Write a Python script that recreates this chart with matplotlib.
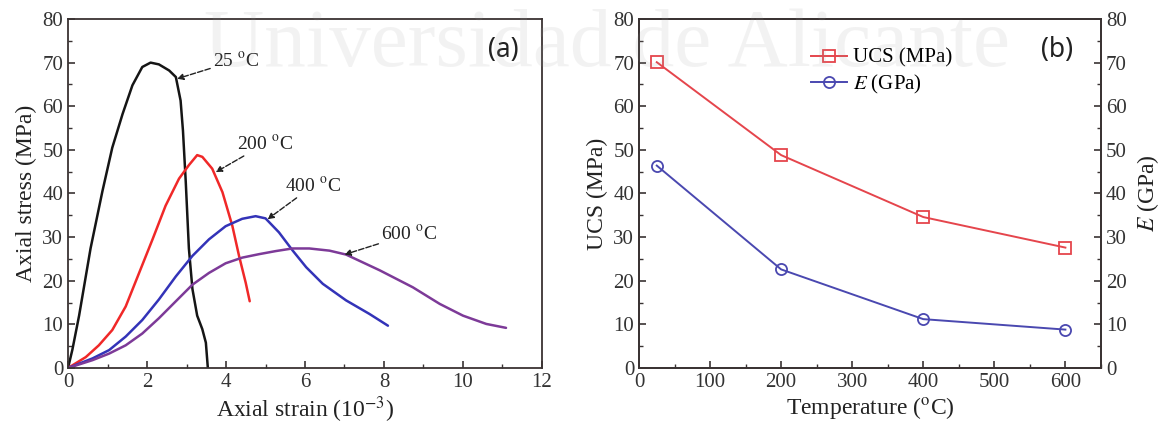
import matplotlib
matplotlib.use("Agg")
import matplotlib.pyplot as plt
from matplotlib.ticker import MultipleLocator

plt.rcParams['font.family'] = ['Liberation Serif', 'DejaVu Serif']
plt.rcParams['mathtext.fontset'] = 'stix'

# (a) stress-strain curves at each temperature (strain in 1e-3, stress in MPa)
strain_25 = [0, 0.11, 0.28, 0.57, 0.87, 1.12, 1.38, 1.63, 1.88, 2.09, 2.30, 2.56, 2.73,
             2.85, 2.91, 2.98, 3.06, 3.15, 3.27, 3.40, 3.49, 3.54]
stress_25 = [0, 4.2, 12, 27.4, 40.5, 50.5, 58.2, 64.8, 69, 70, 69.6, 68.2, 66.7,
             61.3, 54.4, 42.8, 27.4, 18.1, 12, 8.9, 5.8, 0]

strain_200 = [0, 0.45, 0.78, 1.12, 1.46, 1.80, 2.14, 2.47, 2.81, 3.06, 3.27, 3.40, 3.65,
              3.91, 4.16, 4.33, 4.50, 4.60]
stress_200 = [0, 2.5, 5.2, 8.7, 14.1, 21.8, 29.5, 37.2, 43.4, 46.5, 48.8, 48.4, 45.7,
              40.3, 32.6, 25.7, 19.5, 15.3]

strain_400 = [0, 0.62, 1.04, 1.46, 1.88, 2.30, 2.73, 3.15, 3.57, 3.99, 4.41, 4.75, 5.00,
              5.34, 5.69, 6.03, 6.45, 7.04, 7.63, 8.10]
stress_400 = [0, 2.2, 4.1, 7.2, 11.0, 15.7, 21.0, 25.7, 29.5, 32.5, 34.2, 34.8, 34.3,
              31.1, 26.9, 23.1, 19.3, 15.5, 12.4, 9.7]

strain_600 = [0, 0.62, 1.04, 1.46, 1.88, 2.30, 2.73, 3.15, 3.57, 3.99, 4.41, 4.84, 5.26,
              5.68, 6.11, 6.62, 7.04, 7.89, 8.73, 9.41, 10.0, 10.59, 11.09]
stress_600 = [0, 1.8, 3.3, 5.2, 7.9, 11.4, 15.3, 19.1, 21.8, 24.0, 25.3, 26.1, 26.8,
              27.4, 27.4, 26.9, 26.0, 22.4, 18.5, 14.7, 12.0, 10.1, 9.2]

labels_a = ['25 $^{\\rm o}$C', '200 $^{\\rm o}$C', '400 $^{\\rm o}$C', '600 $^{\\rm o}$C']
label_xy = [(3.67, 70.5), (4.28, 51.4), (5.5, 41.8), (7.93, 30.7)]
arrow_xy = [(2.76, 66.3), (3.74, 44.9), (5.05, 34.1), (7.0, 26.0)]

# (b) UCS and elastic modulus against temperature
temps = [25, 200, 400, 600]
ucs = [70.1, 48.8, 34.6, 27.6]
modulus = [46.4, 22.6, 11.2, 8.8]

spine_col = '#3a3333'

fig = plt.figure(figsize=(11.65, 4.28), dpi=100)
ax1 = fig.add_axes([0.0584, 0.1402, 0.4068, 0.8154])
ax2 = fig.add_axes([0.5485, 0.1402, 0.3965, 0.8154])


def style_axes(ax):
    for s in ax.spines.values():
        s.set_color(spine_col)
        s.set_linewidth(1.3)
    ax.tick_params(which='both', direction='in', colors=spine_col, labelcolor='#333333',
                   labelsize=15)
    ax.tick_params(which='major', length=5, width=1.2)
    ax.tick_params(which='minor', length=3, width=1.0)


# panel (a)
curve_kw = dict(lw=1.8, solid_joinstyle='round', solid_capstyle='round')
ax1.plot(strain_25, stress_25, color='#151515', **curve_kw)
ax1.plot(strain_200, stress_200, color='#f02828', **curve_kw)
ax1.plot(strain_400, stress_400, color='#3333b8', **curve_kw)
ax1.plot(strain_600, stress_600, color='#7d3a98', **curve_kw)
for lab, txy, axy in zip(labels_a, label_xy, arrow_xy):
    ax1.annotate(lab, xy=axy, xytext=txy, fontsize=14, color='#222222',
                 ha='left', va='center',
                 arrowprops=dict(arrowstyle='-|>', color='#222222', lw=1.0,
                                 linestyle=(0, (4, 1.5)), mutation_scale=9,
                                 shrinkA=0, shrinkB=0))
ax1.set_xlim(0, 12)
ax1.set_ylim(0, 80)
ax1.xaxis.set_major_locator(MultipleLocator(2))
ax1.xaxis.set_minor_locator(MultipleLocator(1))
ax1.yaxis.set_major_locator(MultipleLocator(10))
ax1.yaxis.set_minor_locator(MultipleLocator(5))
ax1.set_xlabel('Axial strain (10$^{-3}$)', fontsize=17, color='#222222', labelpad=2)
ax1.set_ylabel('Axial stress (MPa)', fontsize=17, color='#222222', labelpad=4)
style_axes(ax1)
ax1.text(0.95, 0.91, '(a)', transform=ax1.transAxes, fontsize=19, family='Noto Sans',
         ha='right', va='center', color='#222222')

# panel (b)
ax2.plot(temps, ucs, color='#e5454c', lw=1.4, marker='s', ms=8, mfc='none',
         mec='#e5454c', mew=1.3, label='UCS (MPa)')
ax2.plot(temps, modulus, color='#4a48b0', lw=1.4, marker='o', ms=8, mfc='none',
         mec='#4a48b0', mew=1.3, label='$E$ (GPa)')
ax2.set_xlim(0, 650)
ax2.set_ylim(0, 80)
ax2.xaxis.set_major_locator(MultipleLocator(100))
ax2.xaxis.set_minor_locator(MultipleLocator(50))
ax2.yaxis.set_major_locator(MultipleLocator(10))
ax2.yaxis.set_minor_locator(MultipleLocator(5))
ax2.set_xlabel('Temperature ($^{\\rm o}$C)', fontsize=17, color='#222222', labelpad=2)
ax2.set_ylabel('UCS (MPa)', fontsize=17, color='#222222', labelpad=4)
style_axes(ax2)
leg = ax2.legend(loc='upper left', bbox_to_anchor=(0.355, 0.94), frameon=False, fontsize=15,
                 handlelength=1.7, handletextpad=0.3, labelspacing=0.25, borderaxespad=0)
ax2.text(0.94, 0.91, '(b)', transform=ax2.transAxes, fontsize=19, family='Noto Sans',
         ha='right', va='center', color='#222222')

ax3 = ax2.twinx()
ax3.set_ylim(0, 80)
ax3.yaxis.set_major_locator(MultipleLocator(10))
ax3.yaxis.set_minor_locator(MultipleLocator(5))
ax3.set_ylabel('$E$ (GPa)', fontsize=17, color='#222222', labelpad=6)
style_axes(ax3)

# light watermark across the top
fig.text(0.521, 0.846, 'Universidad de Alicante', fontsize=60, color='#9a9a9a', alpha=0.12,
         ha='center', va='baseline', family='Liberation Serif', zorder=10)

fig.savefig('out.png', dpi=100)
